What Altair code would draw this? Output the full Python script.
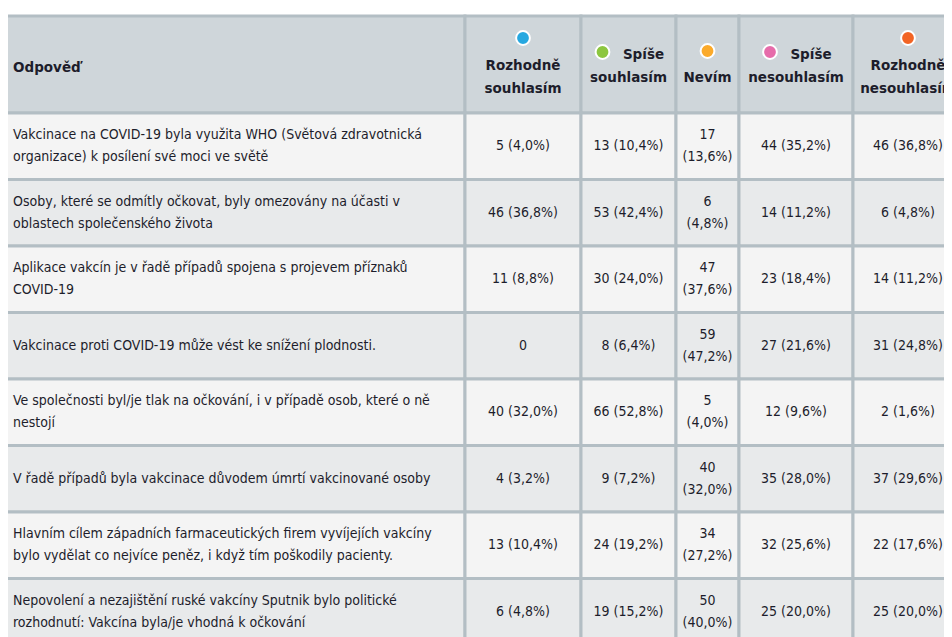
import altair as alt
import pandas as pd

# ---------------- data ----------------
statements = [
    "Vakcinace na COVID-19 byla využita WHO (Světová zdravotnická\norganizace) k posílení své moci ve světě",
    "Osoby, které se odmítly očkovat, byly omezovány na účasti v\noblastech společenského života",
    "Aplikace vakcín je v řadě případů spojena s projevem příznaků\nCOVID-19",
    "Vakcinace proti COVID-19 může vést ke snížení plodnosti.",
    "Ve společnosti byl/je tlak na očkování, i v případě osob, které o ně\nnestojí",
    "V řadě případů byla vakcinace důvodem úmrtí vakcinované osoby",
    "Hlavním cílem západních farmaceutických firem vyvíjejích vakcíny\nbylo vydělat co nejvíce peněz, i když tím poškodily pacienty.",
    "Nepovolení a nezajištění ruské vakcíny Sputnik bylo politické\nrozhodnutí: Vakcína byla/je vhodná k očkování",
]
first_header = "Odpověď"
categories = ["Rozhodně souhlasím", "Spíše souhlasím", "Nevím", "Spíše nesouhlasím", "Rozhodně nesouhlasím"]
header_lines = [["Rozhodně", "souhlasím"], ["Spíše", "souhlasím"], ["Nevím"], ["Spíše", "nesouhlasím"], ["Rozhodně", "nesouhlasím"]]
dot_colors = ["#27a8e0", "#8cc63f", "#fbaa2a", "#e66caa", "#f26424"]

rozhodne_souhlasim = [5, 46, 11, 0, 40, 4, 13, 6]
spise_souhlasim = [13, 53, 30, 8, 66, 9, 24, 19]
nevim = [17, 6, 47, 59, 5, 40, 34, 50]
spise_nesouhlasim = [44, 14, 23, 27, 12, 35, 32, 25]
rozhodne_nesouhlasim = [46, 6, 14, 31, 2, 37, 22, 25]
series = [rozhodne_souhlasim, spise_souhlasim, nevim, spise_nesouhlasim, rozhodne_nesouhlasim]
N_RESPONDENTS = 125

# ---------------- layout (page pixels) ----------------
W, H = 936, 629
PX, PY = 8, 8
col_edges = [6, 465, 581, 676, 739, 853, 975]
text_x = [13, 523, 628.5, 707.5, 796, 908]
header_top, header_bottom = 16, 113
row_h = 66.5
line_h = 22

HEADER_FILL = "#cfd6da"
ROW_FILLS = ["#f4f4f4", "#e8eaeb"]
BORDER = "#b3bec4"
TEXT = "#1d1d2b"
BODY_FONT = "Liberation Sans Narrow, DejaVu Sans Condensed, Noto Sans"
HEAD_FONT = "DejaVu Sans"


def first_line_y(center, label):
    n = label.count("\n") + 1
    return center - (n - 1) * line_h / 2


# ---------------- tables ----------------
cells = []
for c in range(6):
    cells.append(dict(x0=col_edges[c], x1=col_edges[c + 1], y0=header_top, y1=header_bottom, fill=HEADER_FILL))
for r in range(len(statements)):
    y0 = header_bottom + r * row_h
    for c in range(6):
        cells.append(dict(x0=col_edges[c], x1=col_edges[c + 1], y0=y0, y1=y0 + row_h, fill=ROW_FILLS[r % 2]))
cells = pd.DataFrame(cells)

stmt_df = pd.DataFrame([
    dict(x=text_x[0], y=first_line_y(header_bottom + (r + 0.5) * row_h, s), label=s)
    for r, s in enumerate(statements)
])


def fmt(n, wrap):
    if n == 0:
        return "0"
    pct = f"{100 * n / N_RESPONDENTS:.1f}".replace(".", ",")
    return f"{n}\n({pct}%)" if wrap else f"{n} ({pct}%)"


val_rows = []
for c, vals in enumerate(series):
    for r, n in enumerate(vals):
        lab = fmt(n, categories[c] == "Nevím")
        val_rows.append(dict(x=text_x[c + 1], y=first_line_y(header_bottom + (r + 0.5) * row_h, lab), label=lab))
val_df = pd.DataFrame(val_rows)

# header texts and dots
head_rows = [dict(x=text_x[0], y=68, label=first_header, align="left")]
dot_rows = []
for c, lines in enumerate(header_lines):
    cx = text_x[c + 1]
    if len(lines) == 2 and lines[0] == "Spíše":
        dot_rows.append(dict(x=cx - 26, y=52, color=dot_colors[c]))
        head_rows.append(dict(x=cx + 15, y=55, label=lines[0], align="center"))
        head_rows.append(dict(x=cx, y=78, label=lines[1], align="center"))
    elif len(lines) == 1:
        dot_rows.append(dict(x=cx, y=51, color=dot_colors[c]))
        head_rows.append(dict(x=cx, y=78, label=lines[0], align="center"))
    else:
        dot_rows.append(dict(x=cx, y=38, color=dot_colors[c]))
        head_rows.append(dict(x=cx, y=66, label=lines[0], align="center"))
        head_rows.append(dict(x=cx, y=89, label=lines[1], align="center"))
head_df = pd.DataFrame(head_rows)
dot_df = pd.DataFrame(dot_rows)

xs = alt.Scale(domain=[PX, PX + W], nice=False, zero=False)
ys = alt.Scale(domain=[PY, PY + H], nice=False, zero=False, reverse=True)

X = lambda f: alt.X(f, type="quantitative", scale=xs, axis=None)
Y = lambda f: alt.Y(f, type="quantitative", scale=ys, axis=None)

rects = alt.Chart(cells).mark_rect(stroke=BORDER, strokeWidth=3, clip=True).encode(
    x=X("x0"), x2="x1", y=Y("y0"), y2="y1", fill=alt.Fill("fill:N", scale=None)
)

stmt_text = alt.Chart(stmt_df).mark_text(
    align="left", baseline="middle", lineBreak="\n", lineHeight=line_h,
    font=BODY_FONT, fontSize=14, color=TEXT
).encode(x=X("x"), y=Y("y"), text="label:N")

val_text = alt.Chart(val_df).mark_text(
    align="center", baseline="middle", lineBreak="\n", lineHeight=line_h,
    font=BODY_FONT, fontSize=14, color=TEXT
).encode(x=X("x"), y=Y("y"), text="label:N")

head_left = alt.Chart(head_df[head_df["align"] == "left"]).mark_text(
    align="left", baseline="middle", font=HEAD_FONT, fontSize=13.5, fontWeight="bold", color=TEXT
).encode(x=X("x"), y=Y("y"), text="label:N")

head_center = alt.Chart(head_df[head_df["align"] == "center"]).mark_text(
    align="center", baseline="middle", font=HEAD_FONT, fontSize=13.5, fontWeight="bold", color=TEXT
).encode(x=X("x"), y=Y("y"), text="label:N")

dots = alt.Chart(dot_df).mark_circle(size=190, opacity=1, stroke="white", strokeWidth=2).encode(
    x=X("x"), y=Y("y"), color=alt.Color("color:N", scale=None)
)

chart = alt.layer(rects, stmt_text, val_text, head_left, head_center, dots).properties(
    width=W, height=H, padding=0, autosize=alt.AutoSizeParams(type="none")
).configure_view(stroke=None)

chart.save("out.html", embed_options={"renderer": "svg", "actions": False})
